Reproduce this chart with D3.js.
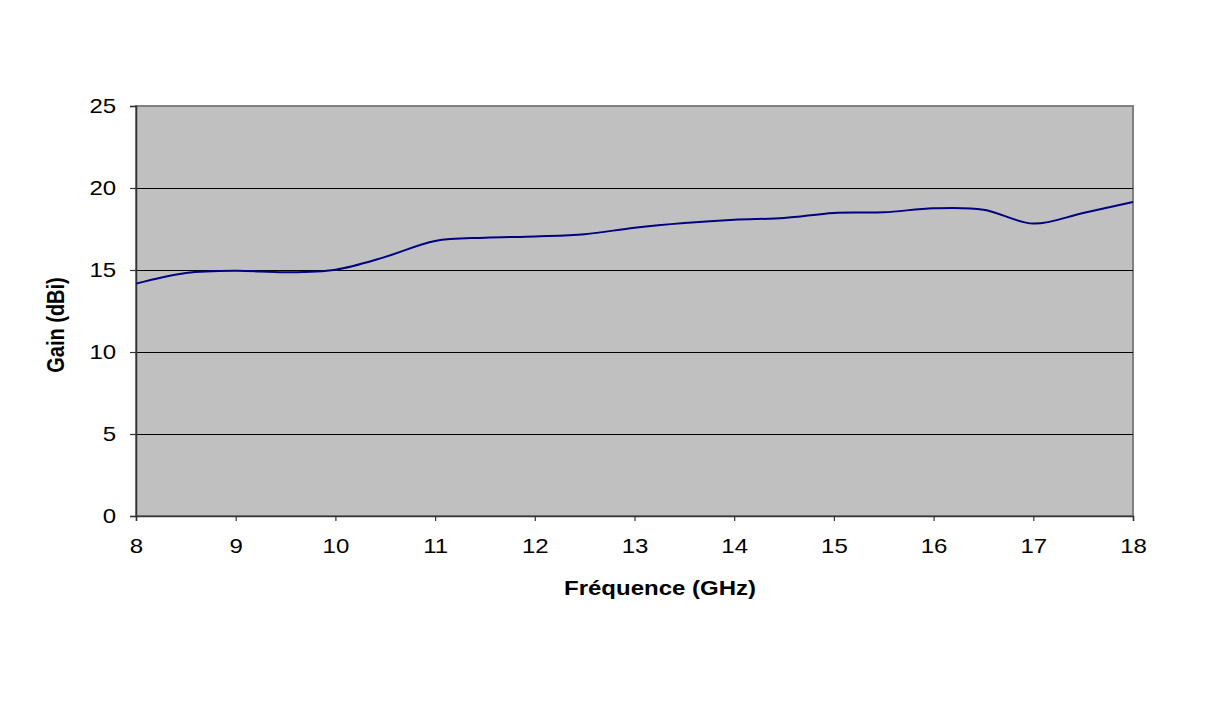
<!DOCTYPE html>
<html>
<head>
<meta charset="utf-8">
<script src="https://cdn.jsdelivr.net/npm/d3@7"></script>
<style>
  body { margin: 0; background: #fff; }
  text { font-family: "Liberation Sans", Arial, sans-serif; fill: #000; }
</style>
</head>
<body>
<div id="chart"></div>
<script>
var freq = [8, 8.5, 9, 9.5, 10, 10.5, 11, 11.5, 12, 12.5, 13, 13.5, 14, 14.5, 15, 15.5, 16, 16.5, 17, 17.5, 18];
var gain = [14.17, 14.82, 14.96, 14.86, 15.02, 15.8, 16.77, 16.97, 17.05, 17.18, 17.58, 17.87, 18.07, 18.17, 18.48, 18.52, 18.76, 18.68, 17.83, 18.48, 19.15];
var xTicks = [8, 9, 10, 11, 12, 13, 14, 15, 16, 17, 18];
var yTicks = [0, 5, 10, 15, 20, 25];

var W = 1226, H = 702;
var margin = {top: 106, right: 93, bottom: 186, left: 136};
var width = W - margin.left - margin.right;
var height = H - margin.top - margin.bottom;
var stretch = 1.2; // the original text is a bit wide

var svg = d3.select('#chart')
    .append('svg')
    .attr('width', W)
    .attr('height', H);

var g = svg.append('g')
    .attr('transform', `translate(${margin.left},${margin.top})`);

var x = d3.scaleLinear().domain([8, 18]).range([0, width]);
var y = d3.scaleLinear().domain([0, 25]).range([height, 0]);

// plot background with grey frame
g.append('rect')
    .attr('width', width)
    .attr('height', height)
    .attr('fill', '#c0c0c0')
    .attr('stroke', '#808080')
    .attr('stroke-width', 2);

// horizontal gridlines
g.selectAll('.grid')
    .data(yTicks.filter(function(d) { return d > 0 && d < 25; }))
    .enter()
    .append('line')
    .attr('x1', 0)
    .attr('x2', width)
    .attr('y1', function(d) { return Math.round(y(d)) + 0.5; })
    .attr('y2', function(d) { return Math.round(y(d)) + 0.5; })
    .attr('stroke', '#000')
    .attr('stroke-width', 1);

var yAxis = d3.axisLeft(y)
    .tickValues(yTicks)
    .tickSize(6)
    .tickPadding(10.5);

var xAxis = d3.axisBottom(x)
    .tickValues(xTicks)
    .tickSize(5)
    .tickPadding(17.5);

var ya = g.append('g').call(yAxis);
var xa = g.append('g').attr('transform', `translate(0,${height})`).call(xAxis);

[ya, xa].forEach(function(a) {
    a.select('.domain').attr('stroke', '#333').attr('stroke-width', 1.5);
    a.selectAll('.tick line').attr('stroke', '#333').attr('stroke-width', 1.2);
    a.selectAll('text')
        .style('font-size', '20px')
        .style('font-family', '"Liberation Sans", Arial, sans-serif')
        .attr('fill', '#000')
        .attr('transform', `scale(${stretch},1)`);
});

// gain curve
var line = d3.line()
    .x(function(d, i) { return x(freq[i]); })
    .y(function(d) { return y(d); })
    .curve(d3.curveCatmullRom.alpha(0.5));

g.append('path')
    .datum(gain)
    .attr('fill', 'none')
    .attr('stroke', '#000080')
    .attr('stroke-width', 2)
    .attr('d', line);

// axis titles
svg.append('text')
    .attr('transform', `translate(660,595) scale(${stretch},1)`)
    .attr('text-anchor', 'middle')
    .style('font-size', '20px')
    .style('font-weight', 'bold')
    .text('Fréquence (GHz)');

svg.append('text')
    .attr('transform', `translate(64,325) scale(${stretch},1) rotate(-90)`)
    .attr('text-anchor', 'middle')
    .style('font-size', '20px')
    .style('font-weight', 'bold')
    .text('Gain (dBi)');
</script>
</body>
</html>
